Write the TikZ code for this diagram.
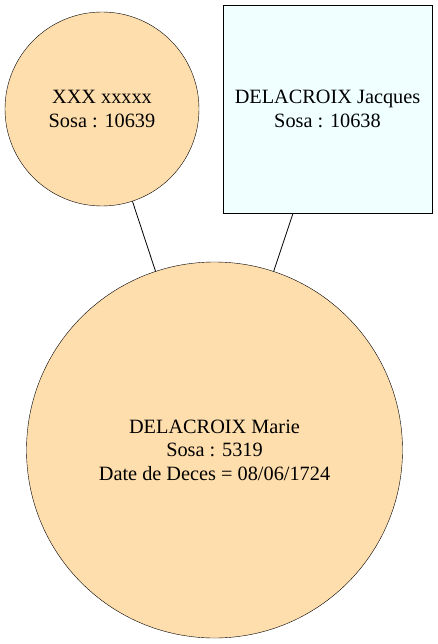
\documentclass[tikz,border=0pt]{standalone}
\usepackage{fontspec}
\setmainfont{Liberation Serif}
\begin{document}
\begin{tikzpicture}[x=1pt,y=-1pt,
  person/.style={circle,draw=black,fill={rgb,255:red,255;green,222;blue,173},align=center,font=\fontsize{20.3}{23.5}\selectfont,inner sep=0pt},
  personbox/.style={rectangle,draw=black,fill={rgb,255:red,240;green,255;blue,255},align=center,font=\fontsize{20.3}{23.5}\selectfont,minimum width=209pt,minimum height=208pt,inner sep=0pt},
  link/.style={draw=black,line width=0.8pt}]
\useasboundingbox (0,0) rectangle (437,644);
\node[person,minimum size=194pt] (xxx) at (102,109) {XXX xxxxx\\Sosa : 10639};
\node[personbox] (jacques) at (327.5,109) {DELACROIX Jacques\\Sosa : 10638};
\node[person,minimum size=376pt] (marie) at (214.5,450) {DELACROIX Marie\\Sosa : 5319\\Date de Deces = 08/06/1724};
\draw[link] (xxx) -- (marie);
\draw[link] (jacques) -- (marie);
\end{tikzpicture}
\end{document}
